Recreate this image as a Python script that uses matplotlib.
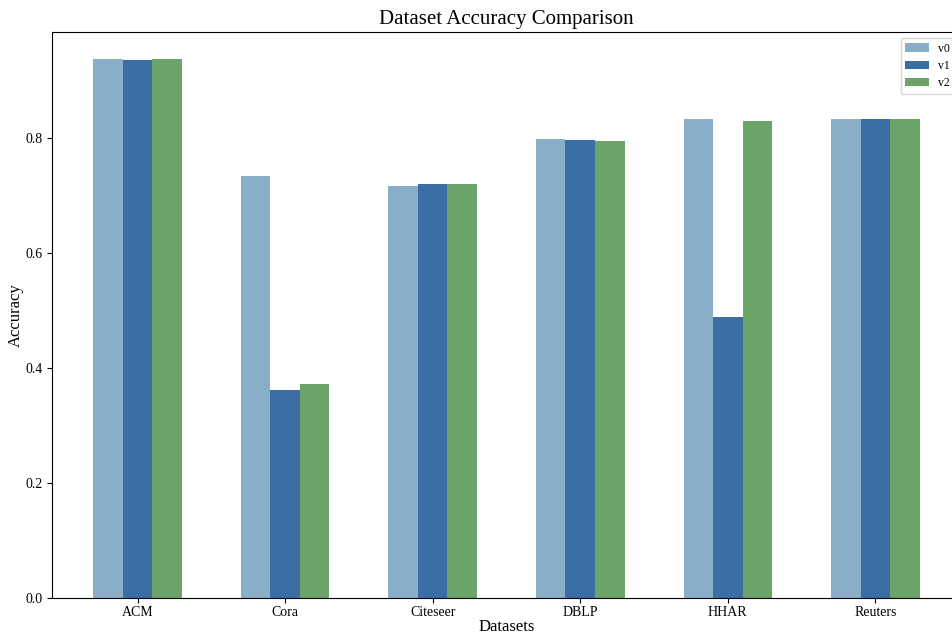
import numpy as np
from matplotlib import pyplot as plt

plt.rcParams['font.family'] = ['Liberation Serif', 'DejaVu Serif']

datasets = ['ACM', 'Cora', 'Citeseer', 'DBLP', 'HHAR', 'Reuters']
acc_v0 = [0.937, 0.734, 0.717, 0.798, 0.832, 0.832]
acc_v1 = [0.935, 0.362, 0.719, 0.796, 0.489, 0.832]
acc_v2 = [0.937, 0.372, 0.719, 0.794, 0.830, 0.832]
versions = ['v0', 'v1', 'v2']
colors = ['#88aec8', '#3a6ea5', '#6aa468']

fig = plt.figure(figsize=(9.52, 6.35), dpi=100)
ax = fig.add_axes([0.0546, 0.0583, 0.9548, 0.8913])

x = np.arange(len(datasets))
width = 0.2
for i, (vals, label) in enumerate(zip([acc_v0, acc_v1, acc_v2], versions)):
    ax.bar(x + (i - 1) * width, vals, width, color=colors[i], label=label)

ax.set_xticks(x)
ax.set_xticklabels(datasets)
ax.tick_params(labelsize=10)
ax.tick_params(axis='x', pad=2.5)
ax.set_xlabel('Datasets', fontsize=12, labelpad=0)
ax.set_ylabel('Accuracy', fontsize=12, labelpad=0.5)
ax.set_title('Dataset Accuracy Comparison', fontsize=15, pad=6)
ax.legend(loc='upper right', fontsize=8.5, handlelength=2, labelspacing=0.45)

fig.savefig('out.png', dpi=100)
